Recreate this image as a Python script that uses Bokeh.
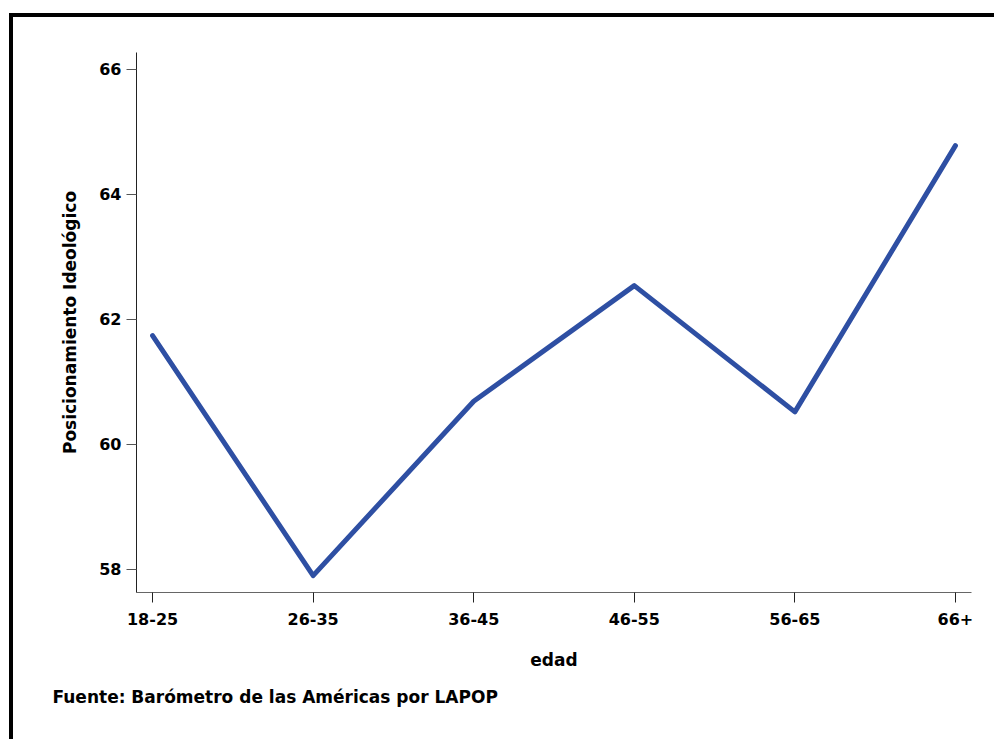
from bokeh.plotting import figure
from bokeh.models import Range1d, FixedTicker, Title
from bokeh.embed import file_html
from bokeh.resources import INLINE

categories = ["18-25", "26-35", "36-45", "46-55", "56-65", "66+"]
values = [61.74, 57.90, 60.69, 62.54, 60.52, 64.78]
y_ticks = [58, 60, 62, 64, 66]
source_text = "Fuente: Barómetro de las Américas por LAPOP"

FONT = "DejaVu Sans"
xs = list(range(len(categories)))

p = figure(width=985, height=726, output_backend="svg", toolbar_location=None,
           x_range=Range1d(-0.1, len(categories) - 0.9), y_range=Range1d(57.63, 66.27),
           min_border_left=123, min_border_right=27, min_border_top=35, min_border_bottom=151)
p.margin = (13, 0, 0, 9)
p.styles = {"border-left": "4px solid black", "border-top": "4px solid black"}
p.outline_line_color = None
p.xgrid.visible = False
p.ygrid.visible = False
p.background_fill_color = "white"
p.border_fill_color = "white"

p.line(xs, values, line_color="#2E4FA3", line_width=5, line_cap="round", line_join="round")

p.xaxis.ticker = FixedTicker(ticks=xs)
p.xaxis.major_label_overrides = {i: c for i, c in enumerate(categories)}
p.yaxis.ticker = FixedTicker(ticks=y_ticks)
p.xaxis.minor_tick_line_color = None
p.yaxis.minor_tick_line_color = None

for ax in (p.xaxis[0], p.yaxis[0]):
    ax.major_tick_out = 10
    ax.major_tick_in = 0
    ax.major_label_text_font = FONT
    ax.major_label_text_font_style = "bold"
    ax.major_label_text_font_size = "16px"
    ax.major_label_text_color = "black"
    ax.axis_label_text_font = FONT
    ax.axis_label_text_font_style = "bold"
    ax.axis_label_text_font_size = "17px"
    ax.axis_label_text_color = "black"

p.xaxis.axis_label = "edad"
p.yaxis.axis_label = "Posicionamiento Ideológico"
p.xaxis.axis_line_color = "#666666"
p.xaxis.major_tick_line_color = "#222222"
p.yaxis.axis_line_color = "#222222"
p.yaxis.major_tick_line_color = "#555555"
p.xaxis.major_label_standoff = 10
p.yaxis.major_label_standoff = 5
p.xaxis.axis_label_standoff = 22
p.yaxis.axis_label_standoff = 16

p.add_layout(Title(text=source_text, align="left", offset=-84, standoff=24,
                   text_font=FONT, text_font_style="bold", text_font_size="17px",
                   text_color="black"), "below")

open("out.html", "w").write(file_html(p, INLINE))
